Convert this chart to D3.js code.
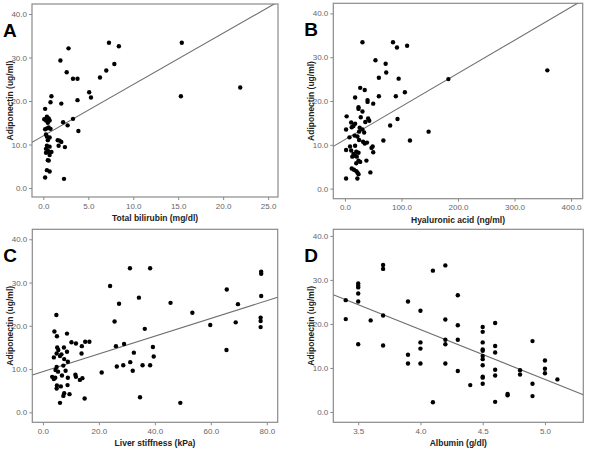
<!DOCTYPE html>
<html>
<head>
<meta charset="utf-8">
<script src="https://cdn.jsdelivr.net/npm/d3@7"></script>
<style>
  html, body { margin: 0; padding: 0; background: #fff; }
  svg { display: block; }
</style>
</head>
<body>
<svg id="chart" width="600" height="450"></svg>
<script>
// ---------------- DATA ----------------
const yTicks = [0, 10, 20, 30, 40];
const yTitle = "Adiponectin (ug/ml)";

// Panel A: Total bilirubin
const aTitle = "Total bilirubin (mg/dl)";
const aTicks = [0, 5, 10, 15, 20, 25];
const aPoints = [[0.2,18.2],[0.1,15.8],[0.4,16.4],[0.6,16.0],[0.7,15.5],[0.3,15.5],[0.5,15.0],[0.4,13.7],[0.6,13.9],[0.3,12.3],[0.4,11.8],[0.7,11.6],[0.5,11.0],[0.4,9.7],[0.7,9.5],[0.3,8.1],[0.6,8.3],[0.9,8.3],[0.7,7.6],[0.5,6.4],[0.6,6.3],[0.4,4.1],[0.7,3.8],[0.2,2.4],[0.8,19.7],[0.9,21.1],[2.0,19.4],[1.9,29.3],[2.8,32.1],[2.6,26.6],[3.3,25.1],[3.8,25.1],[3.8,20.2],[3.9,13.1],[3.3,15.9],[2.2,15.1],[2.7,14.4],[1.6,11.0],[1.8,10.9],[2.0,10.6],[1.7,9.7],[2.4,9.4],[2.3,2.1],[5.1,22.0],[5.3,20.8],[6.3,25.4],[7.0,27.0],[7.3,33.4],[7.9,28.5],[8.4,32.6],[15.4,33.4],[15.3,21.1],[21.9,23.1],[0.2,13.5],[0.8,13.6],[0.3,9.0],[0.5,8.6]];
const aFit = [12.0, 1.18]; // intercept, slope

// Panel B: Hyaluronic acid
const bTitle = "Hyaluronic acid (ng/ml)";
const bTicks = [0, 100, 200, 300, 400];
const bPoints = [[31,33.4],[85,33.4],[92,32.2],[110,32.6],[54,29.3],[72,28.5],[73,26.5],[60,25.3],[95,25.1],[183,25.0],[358,27.0],[27,23.0],[35,22.5],[106,22.0],[60,21.1],[90,21.1],[18,20.8],[40,20.2],[40,19.8],[50,19.4],[24,18.6],[24,18.2],[31,17.6],[3,16.5],[28,16.3],[41,16.0],[43,15.5],[36,15.2],[93,15.9],[11,15.1],[18,14.8],[15,14.3],[80,14.4],[2,13.5],[12,14.0],[26,13.9],[31,13.5],[25,13.0],[34,12.8],[8,11.7],[17,12.1],[22,11.9],[148,13.0],[68,11.0],[115,11.0],[25,11.1],[32,10.7],[39,10.5],[35,10.3],[9,9.6],[18,9.8],[49,9.6],[47,9.3],[2,8.8],[11,8.7],[20,8.4],[24,8.2],[50,8.3],[15,7.9],[18,7.5],[13,7.3],[21,7.3],[24,6.4],[38,6.4],[27,6.1],[20,5.8],[12,4.6],[16,4.3],[20,4.0],[22,3.7],[24,3.3],[45,3.7],[2,2.3],[22,2.3]];
const bFit = [11.2, 0.0756];

// Panel C: Liver stiffness
const cTitle = "Liver stiffness (kPa)";
const cTicks = [0, 20, 40, 60, 80];
const cPoints = [[31.1,33.3],[38.3,33.3],[24.0,29.2],[78.0,32.5],[78.0,32.0],[65.7,28.4],[78.0,26.9],[34.3,26.5],[27.2,25.1],[45.6,25.3],[69.7,25.0],[53.4,23.0],[25.6,21.0],[68.9,20.8],[77.8,21.9],[77.8,21.1],[59.8,20.2],[77.8,19.7],[36.4,19.3],[4.8,22.5],[4.1,18.7],[5.0,17.6],[8.6,18.2],[10.2,16.2],[11.8,15.9],[15.1,16.3],[16.6,16.3],[26.1,15.3],[29.0,15.8],[39.3,15.1],[39.6,12.9],[32.5,13.8],[31.2,11.6],[28.7,10.9],[35.6,10.9],[38.3,10.9],[26.4,10.6],[32.1,9.6],[21.0,9.2],[65.6,14.4],[34.7,3.5],[49.1,2.2],[6.1,2.2],[14.9,3.2],[9.5,4.2],[7.3,3.8],[7.6,4.4],[8.8,6.3],[6.4,6.0],[4.9,5.5],[5.0,6.2],[3.9,7.7],[3.3,8.2],[4.4,8.0],[4.5,9.8],[5.4,9.4],[8.1,9.6],[6.8,8.5],[8.9,8.0],[11.6,8.7],[11.8,8.2],[13.2,7.5],[14.1,7.9],[4.9,10.5],[7.3,10.8],[8.9,11.7],[7.6,12.3],[6.6,13.4],[4.9,13.6],[3.9,12.7],[5.5,14.4],[5.1,15.0],[7.5,15.0],[8.6,14.0],[13.8,13.6],[13.9,15.3],[6.1,13.0]];
const cFit = [9.4, 0.205];

// Panel D: Albumin
const dTitle = "Albumin (g/dl)";
const dTicks = [3.5, 4.0, 4.5, 5.0];
const dPoints = [[3.4,25.4],[3.4,21.1],[3.5,29.2],[3.5,28.7],[3.5,28.3],[3.5,26.9],[3.5,25.1],[3.5,15.4],[3.6,20.8],[3.7,33.4],[3.7,32.5],[3.7,21.9],[3.7,15.1],[3.9,25.1],[3.9,13.0],[3.9,11.0],[4.0,23.0],[4.0,15.8],[4.0,14.4],[4.0,11.0],[4.1,32.1],[4.1,2.2],[4.2,33.3],[4.2,21.0],[4.2,16.4],[4.2,15.4],[4.2,11.0],[4.3,26.5],[4.3,19.7],[4.3,16.4],[4.3,9.3],[4.4,6.1],[4.5,19.3],[4.5,18.2],[4.5,15.8],[4.5,14.2],[4.5,13.9],[4.5,12.7],[4.5,12.0],[4.5,10.6],[4.5,8.0],[4.5,7.8],[4.5,6.4],[4.6,20.2],[4.6,15.0],[4.6,13.5],[4.6,9.6],[4.6,8.3],[4.6,2.3],[4.7,4.1],[4.7,3.8],[4.8,9.5],[4.8,8.5],[4.9,16.1],[4.9,6.4],[4.9,3.6],[5.0,11.7],[5.0,9.8],[5.0,8.8],[5.1,7.4]];
const dFit = [63.9, -11.3];

// ---------------- DRAW ----------------
const svg = d3.select("#chart");
const fmt = d3.format(".1f");

function panel(o) {
  const g = svg.append("g");
  const x = d3.scaleLinear().domain(o.xDomain).range([o.left, o.right]);
  const y = d3.scaleLinear().domain(o.yDomain).range([o.bottom, o.top]);

  // frame
  g.append("rect")
    .attr("x", o.left).attr("y", o.top)
    .attr("width", o.right - o.left).attr("height", o.bottom - o.top)
    .attr("fill", "#fff").attr("stroke", "#8a8a8a").attr("stroke-width", 1.2);

  // axes
  const yAx = g.append("g").attr("transform", `translate(${o.left},0)`)
    .call(d3.axisLeft(y).tickValues(yTicks).tickFormat(fmt).tickSize(3).tickPadding(2));
  const xAx = g.append("g").attr("transform", `translate(0,${o.bottom})`)
    .call(d3.axisBottom(x).tickValues(o.ticks).tickFormat(fmt).tickSize(3).tickPadding(3));
  [yAx, xAx].forEach(a => {
    a.select(".domain").remove();
    a.selectAll("line").attr("stroke", "#8a8a8a");
    a.selectAll("text").attr("fill", "#666").style("font-family", "Liberation Sans, Arial, sans-serif").style("font-size", "8px");
  });

  // clip
  const cid = "clip" + o.letter;
  svg.append("clipPath").attr("id", cid).append("rect")
    .attr("x", o.left).attr("y", o.top).attr("width", o.right - o.left).attr("height", o.bottom - o.top);

  // fit line
  const x0 = o.xDomain[0], x1 = o.xDomain[1];
  g.append("line").attr("clip-path", `url(#${cid})`)
    .attr("x1", x(x0)).attr("y1", y(o.fit[0] + o.fit[1] * x0))
    .attr("x2", x(x1)).attr("y2", y(o.fit[0] + o.fit[1] * x1))
    .attr("stroke", "#6e6e6e").attr("stroke-width", 1.1);

  // points
  g.append("g").selectAll("circle").data(o.points).join("circle")
    .attr("cx", d => x(d[0])).attr("cy", d => y(d[1])).attr("r", 2.2)
    .attr("fill", "#000");

  // titles
  g.append("text").attr("x", (o.left + o.right) / 2).attr("y", o.bottom + 24)
    .attr("text-anchor", "middle").attr("fill", "#222")
    .style("font-family", "Liberation Sans, Arial, sans-serif").style("font-size", "8.5px").style("font-weight", "bold")
    .text(o.title);
  g.append("text")
    .attr("transform", `translate(${o.left - 19},${(o.top + o.bottom) / 2}) rotate(-90)`)
    .attr("text-anchor", "middle").attr("fill", "#222")
    .style("font-family", "Liberation Sans, Arial, sans-serif").style("font-size", "8.5px").style("font-weight", "bold")
    .text(yTitle);
  g.append("text").attr("x", o.left - 29).attr("y", o.top + 33)
    .attr("fill", "#000")
    .style("font-family", "Liberation Sans, Arial, sans-serif").style("font-size", "19px").style("font-weight", "bold")
    .text(o.letter);
}

panel({letter: "A", left: 32, right: 278, top: 4, bottom: 197, xDomain: [-1.26, 26.1], yDomain: [-2.07, 42.3], ticks: aTicks, points: aPoints, fit: aFit, title: aTitle});
panel({letter: "B", left: 333.3, right: 582.7, top: 3.3, bottom: 198.7, xDomain: [-20.6, 420.6], yDomain: [-2.3, 42.3], ticks: bTicks, points: bPoints, fit: bFit, title: bTitle});
panel({letter: "C", left: 32.3, right: 277.7, top: 229.3, bottom: 422.3, xDomain: [-3.8, 83.9], yDomain: [-2.3, 42.3], ticks: cTicks, points: cPoints, fit: cFit, title: cTitle});
panel({letter: "D", left: 333.3, right: 583.3, top: 229.3, bottom: 422.3, xDomain: [3.30, 5.308], yDomain: [-2.35, 41.5], ticks: dTicks, points: dPoints, fit: dFit, title: dTitle});
</script>
</body>
</html>
